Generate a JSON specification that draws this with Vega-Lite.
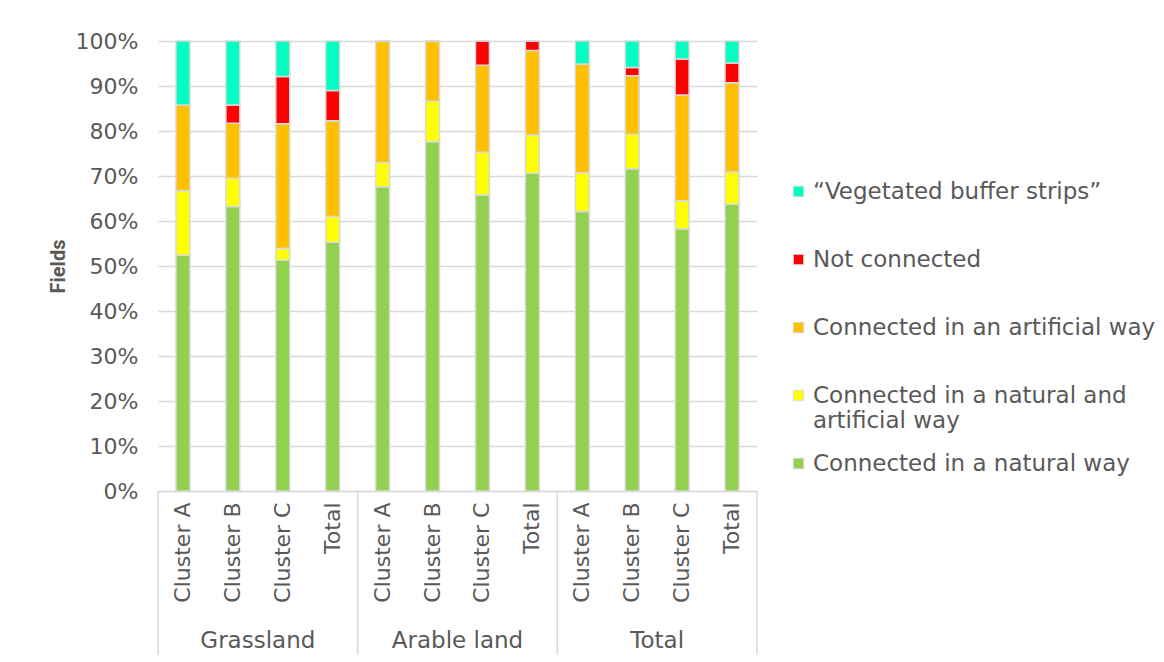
{
  "$schema": "https://vega.github.io/schema/vega-lite/v6.json",
  "width": 599,
  "height": 450,
  "autosize": {"type": "none"},
  "padding": {"left": 158, "top": 41, "right": 407, "bottom": 171},
  "background": "white",
  "config": {
    "view": {"stroke": null},
    "font": "DejaVu Sans",
    "axis": {"labelColor": "#595959", "labelFont": "DejaVu Sans", "labelFontSize": 22, "gridColor": "#D9D9D9", "gridWidth": 1.3, "domainColor": "#D9D9D9", "domainWidth": 1.5, "ticks": false},
    "legend": {"labelColor": "#595959", "labelFont": "DejaVu Sans", "labelFontSize": 23}
  },
  "layer": [
    {
      "data": {"values": [
        {"col": "Grassland|Cluster A", "component": "Connected in a natural way", "order": 1, "value": 52.4},
        {"col": "Grassland|Cluster A", "component": "Connected in a natural and artificial way", "order": 2, "value": 14.3},
        {"col": "Grassland|Cluster A", "component": "Connected in an artificial way", "order": 3, "value": 19.1},
        {"col": "Grassland|Cluster A", "component": "Not connected", "order": 4, "value": 0},
        {"col": "Grassland|Cluster A", "component": "“Vegetated buffer strips”", "order": 5, "value": 14.2},
        {"col": "Grassland|Cluster B", "component": "Connected in a natural way", "order": 1, "value": 63.2},
        {"col": "Grassland|Cluster B", "component": "Connected in a natural and artificial way", "order": 2, "value": 6.3},
        {"col": "Grassland|Cluster B", "component": "Connected in an artificial way", "order": 3, "value": 12.2},
        {"col": "Grassland|Cluster B", "component": "Not connected", "order": 4, "value": 4.1},
        {"col": "Grassland|Cluster B", "component": "“Vegetated buffer strips”", "order": 5, "value": 14.2},
        {"col": "Grassland|Cluster C", "component": "Connected in a natural way", "order": 1, "value": 51.3},
        {"col": "Grassland|Cluster C", "component": "Connected in a natural and artificial way", "order": 2, "value": 2.6},
        {"col": "Grassland|Cluster C", "component": "Connected in an artificial way", "order": 3, "value": 27.7},
        {"col": "Grassland|Cluster C", "component": "Not connected", "order": 4, "value": 10.5},
        {"col": "Grassland|Cluster C", "component": "“Vegetated buffer strips”", "order": 5, "value": 7.9},
        {"col": "Grassland|Total", "component": "Connected in a natural way", "order": 1, "value": 55.3},
        {"col": "Grassland|Total", "component": "Connected in a natural and artificial way", "order": 2, "value": 5.7},
        {"col": "Grassland|Total", "component": "Connected in an artificial way", "order": 3, "value": 21.3},
        {"col": "Grassland|Total", "component": "Not connected", "order": 4, "value": 6.7},
        {"col": "Grassland|Total", "component": "“Vegetated buffer strips”", "order": 5, "value": 11.0},
        {"col": "Arable land|Cluster A", "component": "Connected in a natural way", "order": 1, "value": 67.6},
        {"col": "Arable land|Cluster A", "component": "Connected in a natural and artificial way", "order": 2, "value": 5.4},
        {"col": "Arable land|Cluster A", "component": "Connected in an artificial way", "order": 3, "value": 27.0},
        {"col": "Arable land|Cluster A", "component": "Not connected", "order": 4, "value": 0},
        {"col": "Arable land|Cluster A", "component": "“Vegetated buffer strips”", "order": 5, "value": 0},
        {"col": "Arable land|Cluster B", "component": "Connected in a natural way", "order": 1, "value": 77.6},
        {"col": "Arable land|Cluster B", "component": "Connected in a natural and artificial way", "order": 2, "value": 9.0},
        {"col": "Arable land|Cluster B", "component": "Connected in an artificial way", "order": 3, "value": 13.4},
        {"col": "Arable land|Cluster B", "component": "Not connected", "order": 4, "value": 0},
        {"col": "Arable land|Cluster B", "component": "“Vegetated buffer strips”", "order": 5, "value": 0},
        {"col": "Arable land|Cluster C", "component": "Connected in a natural way", "order": 1, "value": 65.8},
        {"col": "Arable land|Cluster C", "component": "Connected in a natural and artificial way", "order": 2, "value": 9.5},
        {"col": "Arable land|Cluster C", "component": "Connected in an artificial way", "order": 3, "value": 19.3},
        {"col": "Arable land|Cluster C", "component": "Not connected", "order": 4, "value": 5.4},
        {"col": "Arable land|Cluster C", "component": "“Vegetated buffer strips”", "order": 5, "value": 0},
        {"col": "Arable land|Total", "component": "Connected in a natural way", "order": 1, "value": 70.6},
        {"col": "Arable land|Total", "component": "Connected in a natural and artificial way", "order": 2, "value": 8.5},
        {"col": "Arable land|Total", "component": "Connected in an artificial way", "order": 3, "value": 18.8},
        {"col": "Arable land|Total", "component": "Not connected", "order": 4, "value": 2.1},
        {"col": "Arable land|Total", "component": "“Vegetated buffer strips”", "order": 5, "value": 0},
        {"col": "Total|Cluster A", "component": "Connected in a natural way", "order": 1, "value": 62.1},
        {"col": "Total|Cluster A", "component": "Connected in a natural and artificial way", "order": 2, "value": 8.6},
        {"col": "Total|Cluster A", "component": "Connected in an artificial way", "order": 3, "value": 24.2},
        {"col": "Total|Cluster A", "component": "Not connected", "order": 4, "value": 0},
        {"col": "Total|Cluster A", "component": "“Vegetated buffer strips”", "order": 5, "value": 5.1},
        {"col": "Total|Cluster B", "component": "Connected in a natural way", "order": 1, "value": 71.6},
        {"col": "Total|Cluster B", "component": "Connected in a natural and artificial way", "order": 2, "value": 7.7},
        {"col": "Total|Cluster B", "component": "Connected in an artificial way", "order": 3, "value": 13.0},
        {"col": "Total|Cluster B", "component": "Not connected", "order": 4, "value": 1.8},
        {"col": "Total|Cluster B", "component": "“Vegetated buffer strips”", "order": 5, "value": 5.9},
        {"col": "Total|Cluster C", "component": "Connected in a natural way", "order": 1, "value": 58.3},
        {"col": "Total|Cluster C", "component": "Connected in a natural and artificial way", "order": 2, "value": 6.2},
        {"col": "Total|Cluster C", "component": "Connected in an artificial way", "order": 3, "value": 23.5},
        {"col": "Total|Cluster C", "component": "Not connected", "order": 4, "value": 8.0},
        {"col": "Total|Cluster C", "component": "“Vegetated buffer strips”", "order": 5, "value": 4.0},
        {"col": "Total|Total", "component": "Connected in a natural way", "order": 1, "value": 63.7},
        {"col": "Total|Total", "component": "Connected in a natural and artificial way", "order": 2, "value": 7.2},
        {"col": "Total|Total", "component": "Connected in an artificial way", "order": 3, "value": 19.8},
        {"col": "Total|Total", "component": "Not connected", "order": 4, "value": 4.4},
        {"col": "Total|Total", "component": "“Vegetated buffer strips”", "order": 5, "value": 4.9}
      ]},
      "mark": {"type": "bar", "width": {"band": 0.28}, "stroke": "#D9D9D9", "strokeWidth": 1.5},
      "encoding": {
        "x": {
          "field": "col", "type": "nominal",
          "scale": {"paddingInner": 0, "paddingOuter": 0, "domain": ["Grassland|Cluster A", "Grassland|Cluster B", "Grassland|Cluster C", "Grassland|Total", "Arable land|Cluster A", "Arable land|Cluster B", "Arable land|Cluster C", "Arable land|Total", "Total|Cluster A", "Total|Cluster B", "Total|Cluster C", "Total|Total"]},
          "axis": {"title": null, "labelAngle": -90, "labelPadding": 11, "labelExpr": "split(datum.label, '|')[1]", "grid": false}
        },
        "y": {
          "field": "value", "type": "quantitative", "stack": "zero",
          "scale": {"domain": [0, 100], "nice": false},
          "axis": {"values": [0, 10, 20, 30, 40, 50, 60, 70, 80, 90, 100], "labelExpr": "datum.value + '%'", "domain": false, "labelPadding": 20, "title": "Fields", "titleFont": "Roboto", "titleFontWeight": "bold", "titleFontSize": 20, "titleColor": "#595959", "titlePadding": 7}
        },
        "color": {
          "field": "component", "type": "nominal",
          "scale": {
            "domain": ["“Vegetated buffer strips”", "Not connected", "Connected in an artificial way", "Connected in a natural and artificial way", "Connected in a natural way"],
            "range": ["#00FFC0", "#FF0000", "#FFC000", "#FFFF00", "#92D050"]
          },
          "legend": {
            "title": null, "orient": "none", "legendX": 629, "legendY": 139,
            "symbolType": "square", "symbolSize": 110, "symbolStrokeColor": "#D9D9D9", "symbolStrokeWidth": 1,
            "gridAlign": "all", "rowPadding": 19, "labelOffset": 3, "labelLimit": 400,
            "labelExpr": "datum.label == 'Connected in a natural and artificial way' ? ['Connected in a natural and', 'artificial way'] : datum.label"
          }
        },
        "order": {"field": "order", "type": "quantitative"}
      }
    },
    {
      "data": {"values": [
        {"col": "Grassland|Cluster A"},
        {"col": "Arable land|Cluster A"},
        {"col": "Total|Cluster A"}
      ]},
      "mark": {"type": "rule", "color": "#D9D9D9", "strokeWidth": 1.5},
      "encoding": {
        "x": {"field": "col", "type": "nominal", "bandPosition": 0},
        "y": {"datum": 0},
        "y2": {"datum": -36.4}
      }
    },
    {
      "data": {"values": [
        {"col": "Total|Total"}
      ]},
      "mark": {"type": "rule", "color": "#D9D9D9", "strokeWidth": 1.5},
      "encoding": {
        "x": {"field": "col", "type": "nominal", "bandPosition": 1},
        "y": {"datum": 0},
        "y2": {"datum": -36.4}
      }
    },
    {
      "data": {"values": [
        {"col": "Grassland|Cluster B", "label": "Grassland"},
        {"col": "Arable land|Cluster B", "label": "Arable land"},
        {"col": "Total|Cluster B", "label": "Total"}
      ]},
      "mark": {"type": "text", "fontSize": 23, "color": "#595959", "baseline": "middle", "align": "center"},
      "encoding": {
        "x": {"field": "col", "type": "nominal", "bandPosition": 1},
        "y": {"datum": -33.3},
        "text": {"field": "label"}
      }
    }
  ]
}
